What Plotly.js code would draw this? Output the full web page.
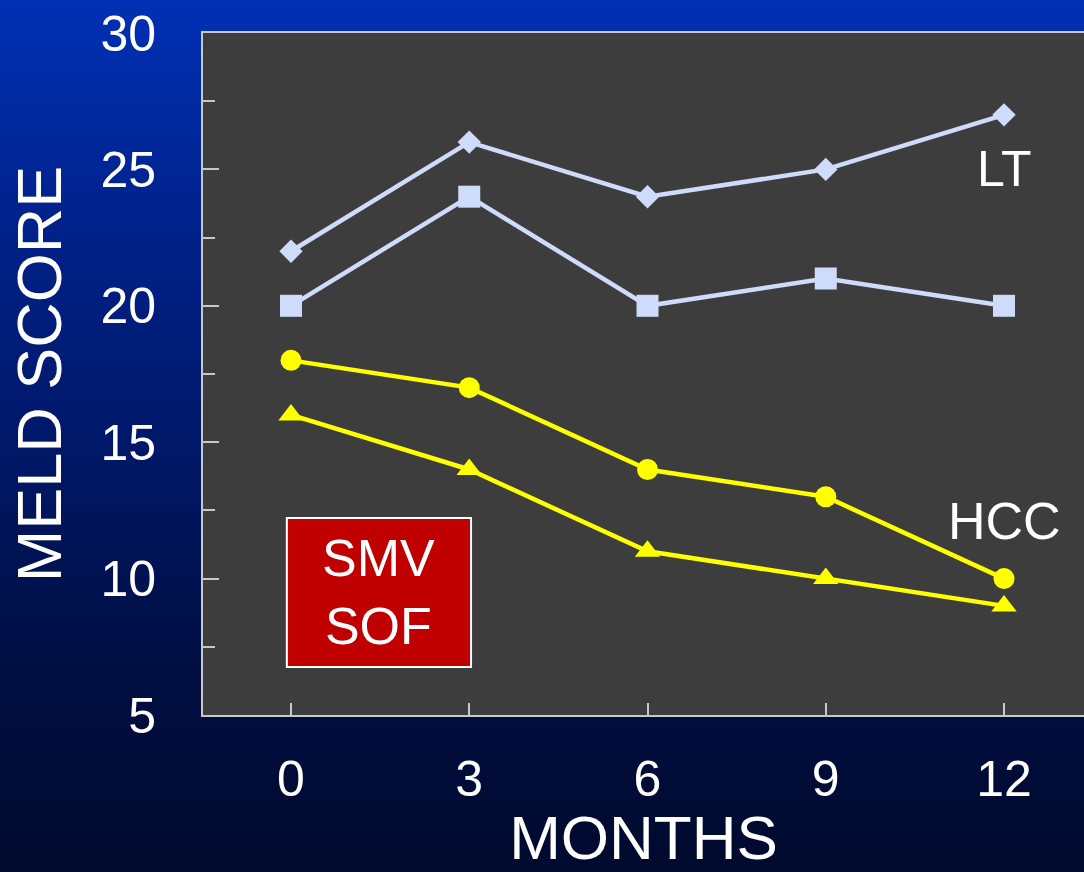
<!DOCTYPE html>
<html>
<head>
<meta charset="utf-8">
<script src="https://cdn.plot.ly/plotly-3.0.1.min.js"></script>
<style>
html,body{margin:0;padding:0;width:1084px;height:872px;overflow:hidden;
background:linear-gradient(to bottom,#0030B4 0%,#00228C 25%,#00186A 50%,#000F44 75%,#000A2E 100%);}
#chart{width:1084px;height:872px;}
</style>
</head>
<body>
<div id="chart"></div>
<script>
const months = [0, 3, 6, 9, 12];
const ltDiamond = [22, 26, 24, 25, 27];
const ltSquare = [20, 24, 20, 21, 20];
const hccCircle = [18, 17, 14, 13, 10];
const hccTriangle = [16, 14, 11, 10, 9];
const xTickLabels = ['0', '3', '6', '9', '12'];

const FONT = 'Liberation Sans, Arial, sans-serif';
const LAV = '#CFDBFA';
const YEL = '#FFFF00';

const traces = [
  {x: months, y: ltDiamond, mode: 'lines+markers', name: 'LT a',
   line: {color: LAV, width: 4.5}, marker: {symbol: 'diamond', size: 18, color: LAV}},
  {x: months, y: ltSquare, mode: 'lines+markers', name: 'LT b',
   line: {color: LAV, width: 4.5}, marker: {symbol: 'square', size: 22, color: LAV}},
  {x: months, y: hccCircle, mode: 'lines+markers', name: 'HCC a',
   line: {color: YEL, width: 4.5}, marker: {symbol: 'circle', size: 21, color: YEL}},
  {x: months, y: hccTriangle, mode: 'lines+markers', name: 'HCC b',
   line: {color: YEL, width: 4.5}, marker: {symbol: 'triangle-up', size: 22, color: YEL}}
];

const layout = {
  width: 1084, height: 872,
  margin: {l: 203, r: 0, t: 33, b: 157},
  paper_bgcolor: 'rgba(0,0,0,0)',
  plot_bgcolor: '#3D3D3D',
  showlegend: false,
  font: {family: FONT, color: '#FFFFFF'},
  xaxis: {
    range: [-1.481, 13.346], fixedrange: true,
    tickvals: months, ticktext: xTickLabels,
    ticks: 'inside', ticklen: 12, tickwidth: 2, tickcolor: '#C8C8C8',
    showline: true, linecolor: '#C8C8C8', linewidth: 2, mirror: true,
    showgrid: false, zeroline: false,
    tickfont: {size: 50, color: '#FFFFFF', family: FONT},
    ticklabelstandoff: 19,
    title: {text: 'MONTHS', font: {size: 62, color: '#FFFFFF', family: FONT}, standoff: 41}
  },
  yaxis: {
    range: [5, 30], fixedrange: true,
    tickvals: [5, 10, 15, 20, 25, 30],
    ticks: 'inside', ticklen: 16, tickwidth: 2, tickcolor: '#C8C8C8',
    minor: {tickvals: [7.5, 12.5, 17.5, 22.5, 27.5], ticks: 'inside', ticklen: 12, tickwidth: 2, tickcolor: '#C8C8C8', showgrid: false},
    showline: true, linecolor: '#C8C8C8', linewidth: 2,
    showgrid: false, zeroline: false,
    tickfont: {size: 50, color: '#FFFFFF', family: FONT},
    ticklabelstandoff: 35,
    title: {text: 'MELD SCORE', font: {size: 63, color: '#FFFFFF', family: FONT}, standoff: 18}
  },
  shapes: [
    {type: 'rect', xref: 'x', yref: 'y', x0: -0.07, x1: 3.03, y0: 6.76, y1: 12.22,
     fillcolor: '#C00000', line: {color: '#FFFFFF', width: 2}, layer: 'above'}
  ],
  annotations: [
    {x: 1.48, y: 9.5, xref: 'x', yref: 'y', text: 'SMV<br>SOF', showarrow: false,
     font: {size: 52, color: '#FFFFFF', family: FONT}, align: 'center'},
    {x: 12, y: 25, xref: 'x', yref: 'y', text: 'LT', showarrow: false,
     font: {size: 50, color: '#FFFFFF', family: FONT}},
    {x: 12, y: 12.1, xref: 'x', yref: 'y', text: 'HCC', showarrow: false,
     font: {size: 52, color: '#FFFFFF', family: FONT}}
  ]
};

Plotly.newPlot('chart', traces, layout, {staticPlot: true, displayModeBar: false});
</script>
</body>
</html>
